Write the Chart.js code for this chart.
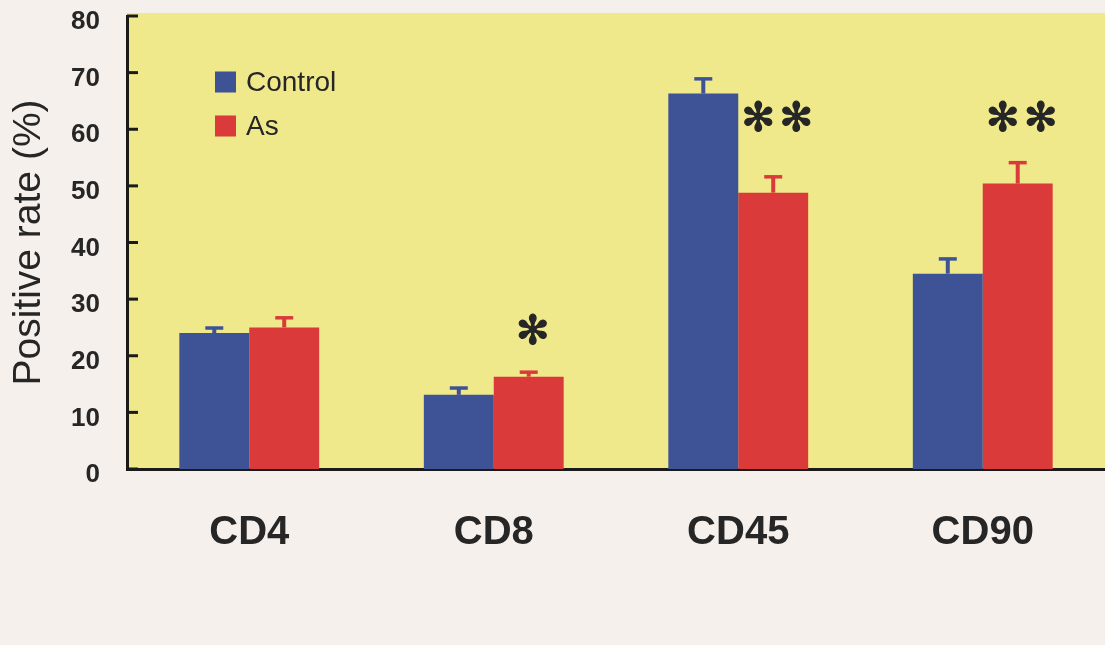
<!DOCTYPE html>
<html>
<head>
<meta charset="utf-8">
<script src="https://cdn.jsdelivr.net/npm/chart.js@4.4.1/dist/chart.umd.min.js"></script>
<style>
  html, body { margin: 0; padding: 0; background: #f6f0ec; }
  #wrap { width: 1105px; height: 645px; }
</style>
</head>
<body>
<div id="wrap"><canvas id="chart" width="1105" height="645"></canvas></div>
<script>
// Surface marker positive rates (%), mean and SEM per group
const categories = ['CD4', 'CD8', 'CD45', 'CD90'];
const controlMean = [24.0, 13.1, 66.3, 34.5];
const controlErr = [0.9, 1.2, 2.6, 2.6];
const asMean = [25.0, 16.3, 48.8, 50.4];
const asErr = [1.7, 0.8, 2.8, 3.7];
// significance of As vs Control
const asSignificance = ['', '✻', '✻✻', '✻✻'];

const BLUE = '#3e5296';
const RED = '#da3b3a';
const YELLOW = '#efe98b';
const INK = '#262626';

// yellow plot panel
const panelPlugin = {
  id: 'panel',
  beforeDraw(chart) {
    const { ctx, chartArea: a } = chart;
    ctx.save();
    ctx.fillStyle = YELLOW;
    ctx.fillRect(a.left, a.top - 3, a.right - a.left, a.bottom - a.top + 3);
    ctx.restore();
  }
};

// inward tick marks on the value axis
const innerTicksPlugin = {
  id: 'innerTicks',
  afterDraw(chart) {
    const { ctx } = chart;
    const y = chart.scales.y;
    ctx.save();
    ctx.strokeStyle = '#1a1a1a';
    ctx.lineWidth = 3;
    y.ticks.forEach(t => {
      const py = y.getPixelForValue(t.value);
      ctx.beginPath();
      ctx.moveTo(y.right, py);
      ctx.lineTo(y.right + 11, py);
      ctx.stroke();
    });
    ctx.restore();
  }
};

// SEM whiskers with caps, in the bar colour
const errorBarPlugin = {
  id: 'errorBars',
  afterDatasetsDraw(chart) {
    const { ctx } = chart;
    const y = chart.scales.y;
    chart.data.datasets.forEach((ds, di) => {
      const meta = chart.getDatasetMeta(di);
      meta.data.forEach((bar, i) => {
        const top = y.getPixelForValue(ds.data[i] + ds.errors[i]);
        const base = bar.y;
        ctx.save();
        ctx.strokeStyle = ds.backgroundColor;
        ctx.lineWidth = 4;
        ctx.beginPath();
        ctx.moveTo(bar.x, base);
        ctx.lineTo(bar.x, top);
        ctx.stroke();
        ctx.lineWidth = 3.5;
        ctx.beginPath();
        ctx.moveTo(bar.x - 9, top);
        ctx.lineTo(bar.x + 9, top);
        ctx.stroke();
        ctx.restore();
      });
    });
  }
};

// significance marks above the As bars
const significancePlugin = {
  id: 'significance',
  afterDatasetsDraw(chart, args, opts) {
    const { ctx } = chart;
    const y = chart.scales.y;
    const meta = chart.getDatasetMeta(1);
    ctx.save();
    ctx.fillStyle = INK;
    ctx.strokeStyle = INK;
    ctx.lineWidth = 1.2;
    ctx.lineJoin = 'round';
    ctx.font = opts.font;
    ctx.textAlign = 'center';
    ctx.textBaseline = 'middle';
    asSignificance.forEach((mark, i) => {
      if (!mark) return;
      const chars = Array.from(mark);
      const cx = meta.data[i].x + opts.shift;
      const py = y.getPixelForValue(opts.level[i]) + opts.dy;
      chars.forEach((c, k) => {
        const dx = (k - (chars.length - 1) / 2) * opts.spacing;
        ctx.fillText(c, cx + dx, py);
        ctx.strokeText(c, cx + dx, py);
      });
    });
    ctx.restore();
  }
};

// legend drawn inside the plot panel
const innerLegendPlugin = {
  id: 'innerLegend',
  afterDraw(chart, args, opts) {
    const { ctx, chartArea: a } = chart;
    ctx.save();
    ctx.font = opts.font;
    ctx.textBaseline = 'middle';
    chart.data.datasets.forEach((ds, i) => {
      const x = a.left + opts.x;
      const yy = a.top + opts.y + i * opts.rowGap;
      ctx.fillStyle = ds.backgroundColor;
      ctx.fillRect(x, yy - opts.box / 2, opts.box, opts.box);
      ctx.fillStyle = INK;
      ctx.fillText(ds.label, x + opts.box + 10, yy + 1);
    });
    ctx.restore();
  }
};

new Chart(document.getElementById('chart'), {
  type: 'bar',
  data: {
    labels: categories,
    datasets: [
      { label: 'Control', data: controlMean, errors: controlErr, backgroundColor: BLUE },
      { label: 'As', data: asMean, errors: asErr, backgroundColor: RED }
    ]
  },
  options: {
    responsive: false,
    animation: false,
    devicePixelRatio: 1,
    layout: { padding: { top: 16, right: 0, bottom: 0, left: 0 } },
    datasets: { bar: { barPercentage: 1.0, categoryPercentage: 0.572, borderWidth: 0 } },
    plugins: {
      legend: { display: false },
      tooltip: { enabled: false },
      significance: { font: '40px "DejaVu Sans"', spacing: 38, shift: 4, dy: 4, level: [0, 24.7, 62.2, 62.2] },
      innerLegend: { font: '28px "Liberation Sans", Arial, sans-serif', x: 88, y: 66, rowGap: 44, box: 21 }
    },
    scales: {
      x: {
        grid: { display: false, drawTicks: false },
        border: { display: true, color: '#1a1a1a', width: 3 },
        ticks: {
          padding: 40,
          color: INK,
          font: { family: '"Liberation Sans", Arial, sans-serif', size: 40, weight: 'bold' }
        },
        afterFit(scale) { scale.height = 176; scale.paddingLeft = 0; scale.paddingRight = 0; }
      },
      y: {
        min: 0,
        max: 80,
        grid: { display: false, drawTicks: false },
        border: { display: true, color: '#1a1a1a', width: 3 },
        ticks: {
          stepSize: 10,
          padding: 27,
          labelOffset: 6,
          color: INK,
          font: { family: '"Liberation Sans", Arial, sans-serif', size: 26, weight: 'bold' }
        },
        title: {
          display: true,
          text: 'Positive rate (%)',
          color: INK,
          padding: { top: 6, bottom: 0 },
          font: { family: '"Liberation Sans", Arial, sans-serif', size: 39 }
        },
        afterFit(scale) { scale.width = 127; scale.paddingTop = 0; scale.paddingBottom = 0; }
      }
    }
  },
  plugins: [panelPlugin, innerTicksPlugin, errorBarPlugin, significancePlugin, innerLegendPlugin]
});
</script>
</body>
</html>
